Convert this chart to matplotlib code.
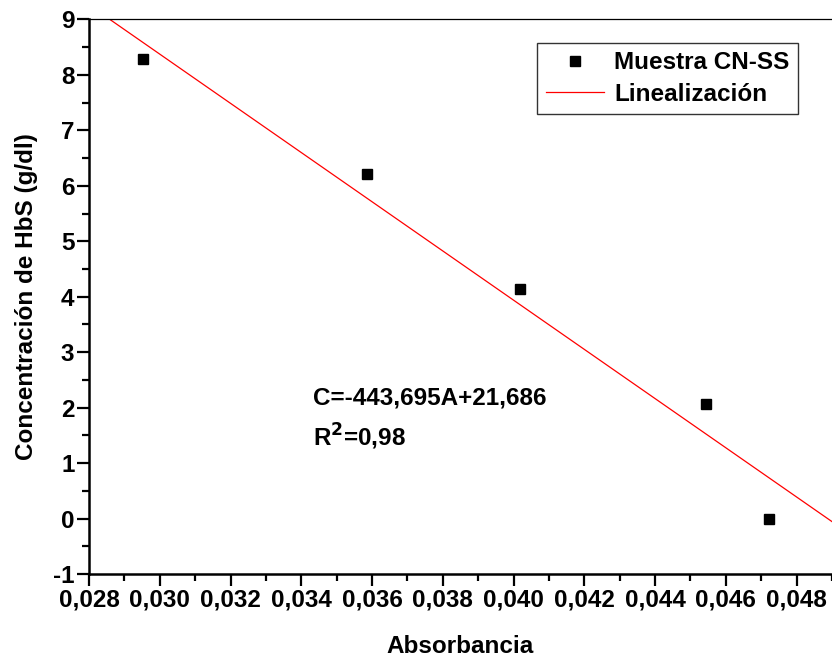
import matplotlib
matplotlib.use("Agg")
import matplotlib.pyplot as plt
import numpy as np
from matplotlib.ticker import MultipleLocator, FuncFormatter

plt.rcParams["font.family"] = ["Liberation Sans", "DejaVu Sans"]
plt.rcParams["font.weight"] = "bold"

# data
absorbancia = [0.02952, 0.03585, 0.04018, 0.04543, 0.04722]
concentracion = [8.29, 6.22, 4.14, 2.07, 0.0]

# fitted line shown on the chart
SLOPE = -443.695
INTERCEPT = 21.686
line_x = [0.028, 0.049]

FS = 17.5

fig = plt.figure(figsize=(8.32, 6.61), dpi=100)
ax = fig.add_axes([0.107, 0.1316, 0.893, 0.8389])

ax.plot(absorbancia, concentracion, "s", color="black", markersize=7,
        label="Muestra CN-SS", zorder=3)
lx = np.array(line_x)
ax.plot(lx, SLOPE * lx + INTERCEPT, color="red", lw=0.9,
        label="Linealización")

ax.set_xlim(0.028, 0.049)
ax.set_ylim(-1, 9)

ax.xaxis.set_major_locator(MultipleLocator(0.002))
ax.xaxis.set_minor_locator(MultipleLocator(0.001))
ax.yaxis.set_major_locator(MultipleLocator(1))
ax.yaxis.set_minor_locator(MultipleLocator(0.5))
ax.xaxis.set_major_formatter(FuncFormatter(lambda v, p: f"{v:.3f}".replace(".", ",")))
ax.yaxis.set_major_formatter(FuncFormatter(lambda v, p: f"{v:.0f}"))

ax.tick_params(which="major", direction="out", length=8.5, width=1.6,
               labelsize=17.5, pad=2)
ax.tick_params(which="minor", direction="out", length=5, width=1.6)
ax.tick_params(top=False, right=False, which="both")
for lab in ax.get_xticklabels() + ax.get_yticklabels():
    lab.set_fontweight("bold")

ax.spines["left"].set_linewidth(1.8)
ax.spines["bottom"].set_linewidth(1.8)
ax.spines["top"].set_linewidth(0.9)
ax.spines["right"].set_visible(False)

ax.set_xlabel("Absorbancia", fontsize=FS, fontweight="bold", labelpad=17)
ax.set_ylabel("Concentración de HbS (g/dl)", fontsize=FS, fontweight="bold",
              labelpad=11)

ax.text(0.03433, 2.17, "C=-443,695A+21,686", fontsize=FS, fontweight="bold",
        va="center", ha="left")
ax.text(0.03433, 1.47, r"R$^\mathbf{2}$=0,98", fontsize=FS, fontweight="bold",
        va="center", ha="left")

leg = ax.legend(loc="upper right", bbox_to_anchor=(0.954, 0.958),
                frameon=True, fancybox=False, edgecolor="black",
                handlelength=2.4, borderpad=0.35, labelspacing=0.35,
                handletextpad=0.4, borderaxespad=0,
                prop={"weight": "bold", "size": FS})
leg.get_frame().set_linewidth(1.0)

fig.savefig("out.png", dpi=100)
